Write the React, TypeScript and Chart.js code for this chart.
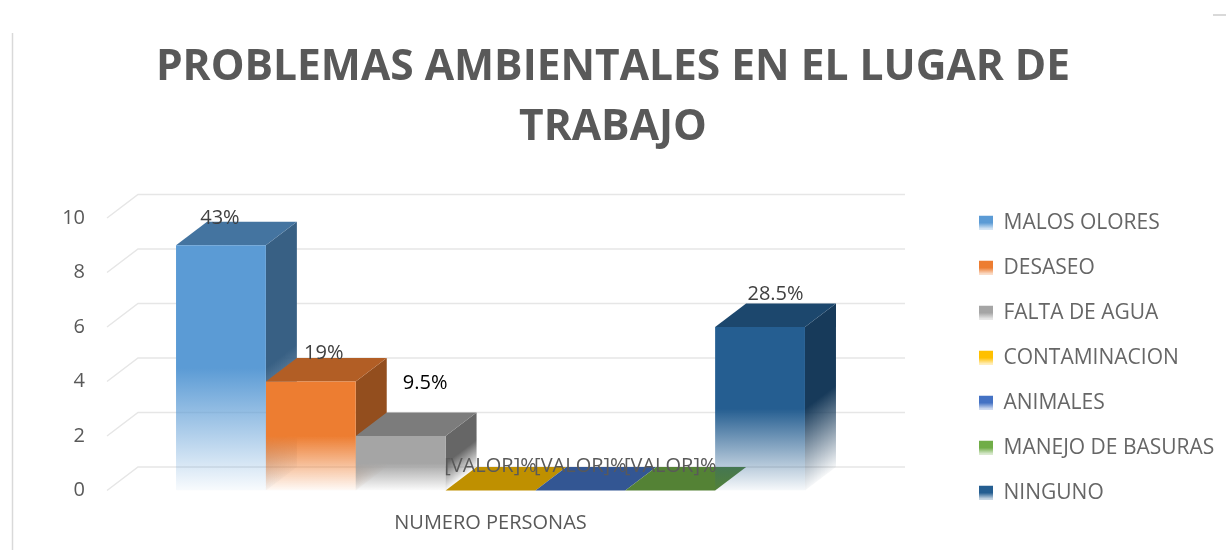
import { useEffect, useRef } from 'react';
import { Chart, registerables } from 'chart.js';

Chart.register(...registerables);

// ---------- data ----------
const CATEGORIES = ['NUMERO PERSONAS'];
const SERIES_NAMES = [
  'MALOS OLORES',
  'DESASEO',
  'FALTA DE AGUA',
  'CONTAMINACION',
  'ANIMALES',
  'MANEJO DE BASURAS',
  'NINGUNO',
];
const SERIES_VALUES = [9, 4, 2, 0, 0, 0, 6];
const DATA_LABELS = ['43%', '19%', '9.5%', '[VALOR]%', '[VALOR]%', '[VALOR]%', '28.5%'];
const Y_TICKS = [0, 2, 4, 6, 8, 10];
const TITLE_LINES = ['PROBLEMAS AMBIENTALES EN EL LUGAR DE', 'TRABAJO'];

// ---------- styles ----------
const SERIES_COLORS = ['#5B9BD5', '#ED7D31', '#A5A5A5', '#FFC000', '#4472C4', '#70AD47', '#255E91'];
const LABEL_COLORS = ['#404040', '#404040', '#000000', '#595959', '#595959', '#595959', '#404040'];
const LABEL_NUDGE: [number, number][] = [
  [-1, -3],
  [13, -4.5],
  [24.5, -29.5],
  [0, -1],
  [0, -1],
  [0, -1],
  [15.5, -9.5],
];
const DX = 31;
const DY = -23.5;
const FONT = '"Open Sans", "Noto Sans", sans-serif';
const TEXT_GRAY = '#595959';
const LEGEND_WIDTH = 271;
const SPACER_WIDTH = 81;

function hexToRgb(hex: string): [number, number, number] {
  const h = hex.replace('#', '');
  return [parseInt(h.slice(0, 2), 16), parseInt(h.slice(2, 4), 16), parseInt(h.slice(4, 6), 16)];
}
function shade(hex: string, f: number, a = 1) {
  const [r, g, b] = hexToRgb(hex);
  return `rgba(${Math.round(r * f)},${Math.round(g * f)},${Math.round(b * f)},${a})`;
}

const threeD = {
  id: 'threeD',
  afterInit(chart: any) {
    const lg = chart.legend;
    if (lg) {
      const orig = lg.fit;
      lg.fit = function () {
        orig.call(this);
        this.width = LEGEND_WIDTH;
      };
    }
  },
  beforeDatasetsDraw(chart: any) {
    const { ctx, chartArea: a } = chart;
    const y = chart.scales.y;
    ctx.save();
    // back wall grid lines
    ctx.strokeStyle = '#e6e6e6';
    ctx.lineWidth = 1.5;
    y.ticks.forEach((t: any) => {
      const py = y.getPixelForValue(t.value);
      ctx.beginPath();
      ctx.moveTo(a.left, py);
      ctx.lineTo(a.left + DX, py + DY);
      ctx.lineTo(a.right + DX, py + DY);
      ctx.stroke();
    });
    // side + top faces, left to right
    const len = Math.hypot(DX, DY);
    const nx = -DY / len;
    const ny = DX / len;
    chart.data.datasets.forEach((_ds: any, i: number) => {
      const meta = chart.getDatasetMeta(i);
      const color = SERIES_COLORS[i];
      meta.data.forEach((bar: any) => {
        const { x, y: top, base, width } = bar.getProps(['x', 'y', 'base', 'width'], true);
        const l = x - width / 2;
        const r = x + width / 2;
        const h = base - top;
        if (h > 0.5) {
          const proj = h * ny;
          const g = ctx.createLinearGradient(r, top, r + nx * proj, top + ny * proj);
          g.addColorStop(0, shade(color, 0.62));
          g.addColorStop(0.5, shade(color, 0.62));
          g.addColorStop(1, shade(color, 0.62, 0.04));
          ctx.fillStyle = g;
          ctx.beginPath();
          ctx.moveTo(r, top);
          ctx.lineTo(r + DX, top + DY);
          ctx.lineTo(r + DX, base + DY);
          ctx.lineTo(r, base);
          ctx.closePath();
          ctx.fill();
        }
        ctx.fillStyle = shade(color, 0.75);
        ctx.beginPath();
        ctx.moveTo(l, top);
        ctx.lineTo(l + DX, top + DY);
        ctx.lineTo(r + DX, top + DY);
        ctx.lineTo(r, top);
        ctx.closePath();
        ctx.fill();
      });
    });
    ctx.restore();
  },
  afterDatasetsDraw(chart: any) {
    const { ctx } = chart;
    ctx.save();
    ctx.font = `20px ${FONT}`;
    ctx.textAlign = 'center';
    ctx.textBaseline = 'middle';
    chart.data.datasets.forEach((_ds: any, i: number) => {
      const bar = chart.getDatasetMeta(i).data[0];
      if (!bar) return;
      const { x, y } = bar.getProps(['x', 'y'], true);
      ctx.fillStyle = LABEL_COLORS[i];
      ctx.fillText(DATA_LABELS[i], x + LABEL_NUDGE[i][0], y + DY + LABEL_NUDGE[i][1]);
    });
    ctx.restore();
  },
  afterDraw(chart: any) {
    const { ctx } = chart;
    ctx.save();
    // fade the lower part of each legend swatch, like the bars
    const lg = chart.legend;
    if (lg && lg.legendHitBoxes) {
      const bw = lg.options.labels.boxWidth;
      const bh = lg.options.labels.boxHeight;
      lg.legendHitBoxes.forEach((hb: any) => {
        const top = hb.top + (hb.height - bh) / 2;
        const g = ctx.createLinearGradient(0, top + bh * 0.5, 0, top + bh);
        g.addColorStop(0, 'rgba(255,255,255,0)');
        g.addColorStop(1, 'rgba(255,255,255,0.85)');
        ctx.fillStyle = g;
        ctx.fillRect(hb.left, top + bh * 0.5, bw, bh * 0.5);
      });
    }
    ctx.strokeStyle = '#d9d9d9';
    ctx.lineWidth = 1.5;
    ctx.beginPath();
    ctx.moveTo(12.5, 33);
    ctx.lineTo(12.5, 550);
    ctx.stroke();
    ctx.lineWidth = 2;
    ctx.beginPath();
    ctx.moveTo(1213, 15);
    ctx.lineTo(1226, 15);
    ctx.stroke();
    ctx.restore();
  },
};

export default function App() {
  const ref = useRef<HTMLCanvasElement | null>(null);

  useEffect(() => {
    document.body.style.margin = '0';
    const canvas = ref.current;
    if (!canvas) return;

    const datasets = SERIES_NAMES.map((name, i) => {
      const color = SERIES_COLORS[i];
      const value = SERIES_VALUES[i];
      return {
        label: name,
        data: [value],
        borderWidth: 0,
        barPercentage: 1,
        categoryPercentage: 0.82,
        backgroundColor: (c: any) => {
          const ch = c.chart;
          const ys = ch.scales && ch.scales.y;
          if (!ys || !ch.chartArea) return color;
          const top = ys.getPixelForValue(value);
          const base = ys.getPixelForValue(0);
          if (base - top < 1) return color;
          const g = ch.ctx.createLinearGradient(0, top, 0, base);
          g.addColorStop(0, color);
          g.addColorStop(0.5, color);
          g.addColorStop(1, shade(color, 1, 0.04));
          return g;
        },
      };
    });

    const chart = new Chart(canvas, {
      type: 'bar',
      data: { labels: CATEGORIES, datasets },
      plugins: [threeD],
      options: {
        animation: false,
        responsive: false,
        devicePixelRatio: 1,
        layout: { padding: { left: 0, right: 0, top: 0, bottom: 14.5 } },
        scales: {
          x: {
            grid: { display: false, drawTicks: false },
            border: { display: false },
            ticks: { color: TEXT_GRAY, font: { family: FONT, size: 20 }, padding: 20.5 },
            afterFit: (axis: any) => {
              axis.height = 45;
            },
          },
          y: {
            min: 0,
            max: 10,
            grid: { display: false, drawTicks: false },
            border: { display: false },
            afterBuildTicks: (axis: any) => {
              axis.ticks = Y_TICKS.map((v) => ({ value: v }));
            },
            afterFit: (axis: any) => {
              axis.width = 107;
            },
            ticks: { color: TEXT_GRAY, font: { family: FONT, size: 20 }, padding: 22 },
          },
          spacer: {
            type: 'linear',
            position: 'right',
            display: true,
            grid: { display: false, drawTicks: false },
            border: { display: false },
            ticks: { display: false },
            afterFit: (axis: any) => {
              axis.width = SPACER_WIDTH;
            },
          },
        },
        plugins: {
          title: {
            display: true,
            text: TITLE_LINES,
            color: TEXT_GRAY,
            font: { family: FONT, size: 42.5, weight: 'bold', lineHeight: 60 / 42.5 },
            padding: { top: 38, bottom: 60 },
          },
          legend: {
            position: 'right',
            align: 'start',
            title: { display: true, text: '', padding: { top: 178.3, bottom: 0 }, font: { size: 10, lineHeight: 1 } },
            labels: {
              color: TEXT_GRAY,
              font: { family: FONT, size: 21 },
              boxWidth: 14,
              boxHeight: 14,
              padding: 24,
              generateLabels: (ch: any) =>
                ch.data.datasets.map((ds: any, i: number) => ({
                  text: ds.label,
                  fillStyle: SERIES_COLORS[i],
                  strokeStyle: SERIES_COLORS[i],
                  lineWidth: 0,
                  hidden: false,
                  datasetIndex: i,
                })),
            },
          },
          tooltip: { enabled: false },
        },
      } as any,
    });

    return () => chart.destroy();
  }, []);

  return (
    <div style={{ width: 1226, height: 550 }}>
      <canvas ref={ref} width={1226} height={550} style={{ display: 'block' }} />
    </div>
  );
}
